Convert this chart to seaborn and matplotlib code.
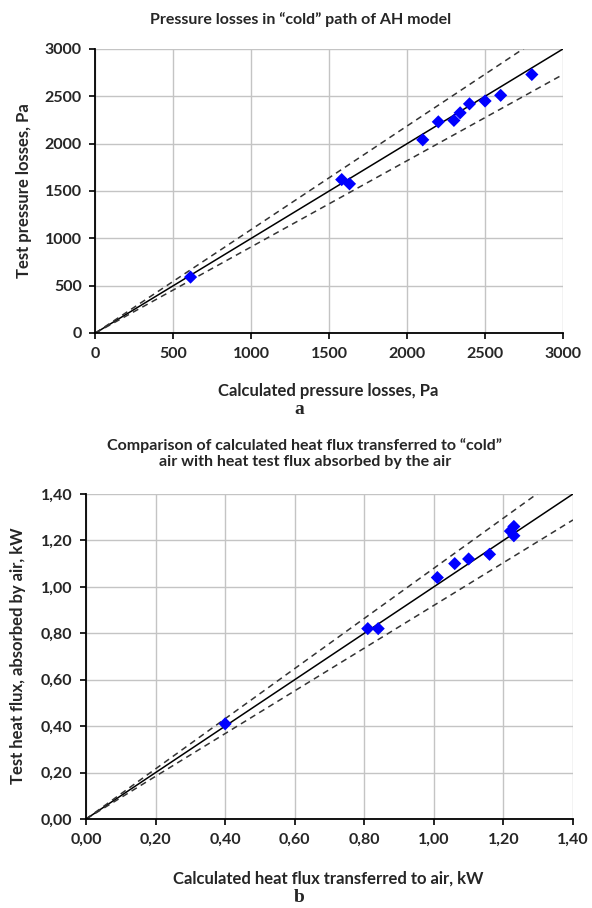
import matplotlib
matplotlib.use("Agg")
import matplotlib.pyplot as plt
import seaborn as sns
import pandas as pd

# --- data: pressure losses (top) ---
calc_pressure = [610, 1580, 1630, 2100, 2200, 2300, 2340, 2400, 2500, 2600, 2800]
test_pressure = [590, 1620, 1575, 2040, 2230, 2245, 2325, 2420, 2450, 2510, 2730]
press_line_x = [0, 3000]
press_line_y = [0, 3000]
press_upper_y = [0, 3280]
press_lower_y = [0, 2730]
press_ticks = [0, 500, 1000, 1500, 2000, 2500, 3000]

# --- data: heat flux (bottom) ---
calc_heat = [0.40, 0.81, 0.84, 1.01, 1.06, 1.10, 1.16, 1.22, 1.23, 1.23]
test_heat = [0.41, 0.82, 0.82, 1.04, 1.10, 1.12, 1.14, 1.24, 1.26, 1.22]
heat_line_x = [0, 1.4]
heat_line_y = [0, 1.4]
heat_upper_y = [0, 1.512]
heat_lower_y = [0, 1.288]
heat_ticks = [0.0, 0.2, 0.4, 0.6, 0.8, 1.0, 1.2, 1.4]
heat_tick_labels = ["0,00", "0,20", "0,40", "0,60", "0,80", "1,00", "1,20", "1,40"]

sns.set_style("white")
plt.rcParams['font.family'] = ['Lato', 'DejaVu Sans']
plt.rcParams['font.weight'] = 'bold'

fig = plt.figure(figsize=(5.92, 9.08), dpi=100)
ax1 = fig.add_axes([0.1613, 0.6333, 0.7897, 0.3128])
ax2 = fig.add_axes([0.1453, 0.098, 0.8226, 0.3580])


def style_axes(ax):
    ax.grid(True, color="#c4c4c4", linewidth=1)
    ax.set_axisbelow(True)
    for side in ["top", "right"]:
        ax.spines[side].set_visible(False)
    for side in ["left", "bottom"]:
        ax.spines[side].set_color("black")
        ax.spines[side].set_linewidth(1.3)
    ax.tick_params(direction="out", length=4, width=1.2, color="black",
                   labelsize=11.5, pad=6, left=True, bottom=True)
    for lab in ax.get_xticklabels() + ax.get_yticklabels():
        lab.set_fontweight("bold")


def draw(ax, lx, ly, lu, ll, cx, cy):
    sns.lineplot(x=lx, y=ly, ax=ax, color="black", linewidth=1.1, sort=False)
    sns.lineplot(x=lx, y=lu, ax=ax, color="#333333", linewidth=1.1, sort=False,
                 linestyle=(0, (4, 3)))
    sns.lineplot(x=lx, y=ll, ax=ax, color="#333333", linewidth=1.1, sort=False,
                 linestyle=(0, (4, 3)))
    sns.scatterplot(x=cx, y=cy, ax=ax, marker="D", color="#0000ff",
                    s=45, edgecolor="none", zorder=5)


# - Top: pressure losses -
draw(ax1, press_line_x, press_line_y, press_upper_y, press_lower_y,
     calc_pressure, test_pressure)
ax1.set_xlim(0, 3000)
ax1.set_ylim(0, 3000)
ax1.set_xticks(press_ticks)
ax1.set_yticks(press_ticks)
style_axes(ax1)
ax1.set_xlabel("")
ax1.set_ylabel("")

# - Bottom: heat flux -
draw(ax2, heat_line_x, heat_line_y, heat_upper_y, heat_lower_y,
     calc_heat, test_heat)
ax2.set_xlim(0, 1.4)
ax2.set_ylim(0, 1.4)
ax2.set_xticks(heat_ticks)
ax2.set_xticklabels(heat_tick_labels)
ax2.set_yticks(heat_ticks)
ax2.set_yticklabels(heat_tick_labels)
style_axes(ax2)
ax2.set_xlabel("")
ax2.set_ylabel("")

# - texts -
fig.text(0.507, 0.978, "Pressure losses in \u201ccold\u201d path of AH model",
         ha="center", va="center", fontsize=11.5, fontweight="bold")
fig.text(0.555, 0.5694, "Calculated pressure losses, Pa",
         ha="center", va="center", fontsize=12, fontweight="bold")
fig.text(0.040, 0.79, "Test pressure losses, Pa", rotation=90,
         ha="center", va="center", fontsize=12, fontweight="bold")
fig.text(0.505, 0.5485, "a", ha="center", va="center", fontsize=14,
         fontweight="bold", family="Liberation Serif")

fig.text(0.515, 0.5005,
         "Comparison of calculated heat flux transferred to \u201ccold\u201d\n"
         "air with heat test flux absorbed by the air",
         ha="center", va="center", fontsize=11.5, fontweight="bold",
         linespacing=1.25)
fig.text(0.555, 0.032, "Calculated heat flux transferred to air, kW",
         ha="center", va="center", fontsize=12, fontweight="bold")
fig.text(0.030, 0.278, "Test heat flux, absorbed by air, kW", rotation=90,
         ha="center", va="center", fontsize=12, fontweight="bold")
fig.text(0.505, 0.012, "b", ha="center", va="center", fontsize=14,
         fontweight="bold", family="Liberation Serif")

fig.savefig("out.png", dpi=100)
